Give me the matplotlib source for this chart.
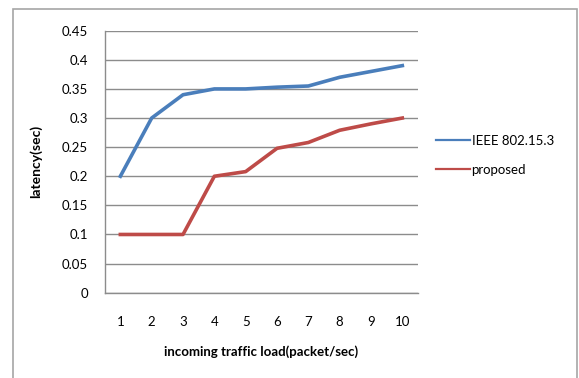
import matplotlib
matplotlib.use("Agg")
from matplotlib import pyplot as plt
from matplotlib.patches import Rectangle

plt.rcParams['font.family'] = ['Lato', 'DejaVu Sans']

loads = [1, 2, 3, 4, 5, 6, 7, 8, 9, 10]
ieee = [0.2, 0.3, 0.34, 0.35, 0.35, 0.353, 0.355, 0.37, 0.38, 0.39]
proposed = [0.1, 0.1, 0.1, 0.2, 0.208, 0.248, 0.258, 0.279, 0.29, 0.3]
y_ticks = [0, 0.05, 0.1, 0.15, 0.2, 0.25, 0.3, 0.35, 0.4, 0.45]
y_labels = ["0", "0.05", "0.1", "0.15", "0.2", "0.25", "0.3", "0.35", "0.4", "0.45"]

fig = plt.figure(figsize=(5.79, 3.78), dpi=100)
fig.patches.append(Rectangle((13 / 579, -0.1), 564 / 579, 1 - 9 / 378 + 0.1,
                             transform=fig.transFigure, fill=False,
                             edgecolor="#a6a6a6", linewidth=1.2))

ax = fig.add_axes([104.7 / 579, 1 - 292.7 / 378, 313.3 / 579, 262 / 378])
ax.plot(loads, ieee, color="#4a7ebb", linewidth=2.6, label="IEEE 802.15.3")
ax.plot(loads, proposed, color="#be4b48", linewidth=2.6, label="proposed")

ax.set_xlim(0.5, 10.5)
ax.set_ylim(0, 0.45)
ax.set_xticks(loads)
ax.set_yticks(y_ticks)
ax.set_yticklabels(y_labels)
ax.tick_params(length=0, labelsize=9.5, colors="black")
ax.tick_params(axis="x", pad=17)
ax.tick_params(axis="y", pad=12)
ax.yaxis.grid(True, color="#8c8c8c", linewidth=1)
ax.set_axisbelow(True)
for side in ["top", "right"]:
    ax.spines[side].set_visible(False)
for side in ["left", "bottom"]:
    ax.spines[side].set_color("#8c8c8c")
    ax.spines[side].set_linewidth(1)

ax.set_xlabel("incoming traffic load(packet/sec)", fontsize=9.5, fontweight="bold", labelpad=12)
ax.set_ylabel("latency(sec)", fontsize=10, fontweight="bold", labelpad=14)

leg = fig.legend(loc="upper left", bbox_to_anchor=(424 / 579, 1 - 123 / 378), frameon=False,
                 fontsize=9.5, handlelength=2.6, handletextpad=0.1, labelspacing=1.3)
for line in leg.get_lines():
    line.set_linewidth(1.6)

fig.savefig("out.png", dpi=100)
